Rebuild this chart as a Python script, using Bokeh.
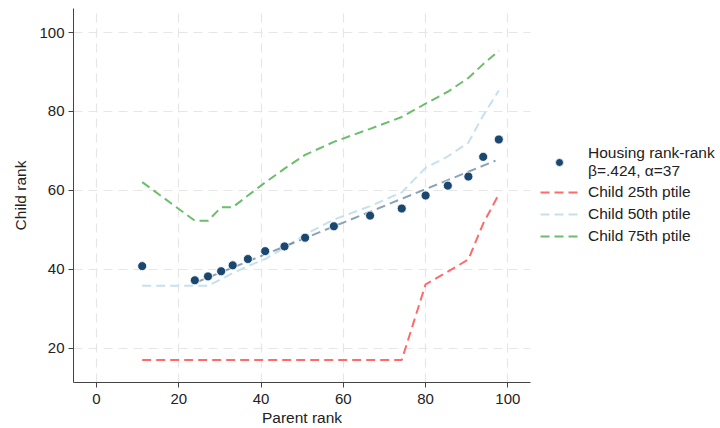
from bokeh.plotting import figure
from bokeh.models import Range1d, Legend, LegendItem, FixedTicker
from bokeh.embed import file_html
from bokeh.resources import INLINE

# ---- data ----
parent_rank = [11.1, 23.9, 27.1, 30.3, 33.1, 36.8, 41.0, 45.7, 50.7, 57.7,
               66.5, 74.2, 80.0, 85.4, 90.4, 94.0, 97.8]
housing_rank = [40.8, 37.2, 38.2, 39.5, 41.0, 42.6, 44.6, 45.8, 48.0, 50.9,
                53.6, 55.4, 58.7, 61.2, 63.5, 68.5, 72.9]
child_p25 = [17.0, 17.0, 17.0, 17.0, 17.0, 17.0, 17.0, 17.0, 17.0, 17.0,
             17.0, 17.0, 36.2, 39.4, 42.5, 51.6, 59.0]
child_p50 = [35.8, 35.8, 35.8, 37.5, 39.0, 40.8, 42.6, 45.5, 48.8, 52.6,
             56.0, 59.5, 65.7, 68.6, 72.1, 79.0, 85.3]
child_p75 = [62.1, 52.3, 52.3, 55.7, 55.7, 58.7, 62.0, 65.5, 69.0, 72.3,
             75.6, 78.6, 82.0, 85.0, 88.5, 92.0, 95.4]
beta = 0.424
alpha = 37          # predicted child rank at parent rank 25
fit_x = [24.0, 97.0]
fit_y = [alpha + beta * (x - 25) for x in fit_x]

x_ticks = [0, 20, 40, 60, 80, 100]
y_ticks = [20, 40, 60, 80, 100]

FONT = "Liberation Sans"

p = figure(frame_width=457, frame_height=374, output_backend="svg", toolbar_location=None,
           x_range=Range1d(-5.6, 105.5), y_range=Range1d(11.3, 106.1),
           min_border_left=73, min_border_right=0, min_border_top=8,
           min_border_bottom=46)
p.outline_line_color = None
p.background_fill_color = "white"
p.border_fill_color = "white"

# grid
for g in (p.xgrid, p.ygrid):
    g.grid_line_color = "#e6e6e6"
    g.grid_line_dash = "9 6"
    g.grid_line_width = 1.2
p.xgrid.ticker = FixedTicker(ticks=x_ticks)
p.ygrid.ticker = FixedTicker(ticks=y_ticks)

# axes
p.xaxis.ticker = FixedTicker(ticks=x_ticks)
p.yaxis.ticker = FixedTicker(ticks=y_ticks)
for ax in (p.xaxis[0], p.yaxis[0]):
    ax.axis_line_color = "#444444"
    ax.major_tick_line_color = "#444444"
    ax.minor_tick_line_color = None
    ax.major_tick_out = 5
    ax.major_tick_in = 0
    ax.major_label_text_font = FONT
    ax.major_label_text_font_size = "15px"
    ax.major_label_text_color = "#222222"
    ax.axis_label_text_font = FONT
    ax.axis_label_text_font_size = "15.5px"
    ax.axis_label_text_font_style = "normal"
    ax.axis_label_text_color = "#222222"
p.xaxis.axis_label = "Parent rank"
p.yaxis.axis_label = "Child rank"
p.xaxis.major_label_standoff = 6
p.xaxis.axis_label_standoff = 2
p.yaxis.major_label_standoff = 4
p.yaxis.axis_label_standoff = 7
p.yaxis.major_label_orientation = "horizontal"

# lines
r25 = p.line(parent_rank, child_p25, line_color="#ff6a6a", line_width=2, line_dash="9 5")
r50 = p.line(parent_rank, child_p50, line_color="#c6e1ed", line_width=2, line_dash="9 5")
r75 = p.line(parent_rank, child_p75, line_color="#6cbd6c", line_width=2, line_dash="9 5")
p.line(fit_x, fit_y, line_color="#1a476f", line_alpha=0.5, line_width=2, line_dash="9 5")
rdots = p.scatter(parent_rank, housing_rank, size=9, fill_color="#1a476f",
                  line_color="white", line_width=0.8)

legend = Legend(items=[
    LegendItem(label="Housing rank-rank\nβ=.424, α=37", renderers=[rdots]),
    LegendItem(label="Child 25th ptile", renderers=[r25]),
    LegendItem(label="Child 50th ptile", renderers=[r50]),
    LegendItem(label="Child 75th ptile", renderers=[r75]),
], location="center_left")
legend.label_text_font = FONT
legend.label_text_font_size = "15.5px"
legend.label_text_color = "#222222"
legend.glyph_width = 38
legend.glyph_height = 20
legend.label_height = 20
legend.label_standoff = 10
legend.spacing = 2
legend.padding = 0
legend.margin = 10
legend.border_line_alpha = 0
legend.background_fill_alpha = 0
p.add_layout(legend, "right")

open("out.html", "w").write(file_html(p, INLINE))
